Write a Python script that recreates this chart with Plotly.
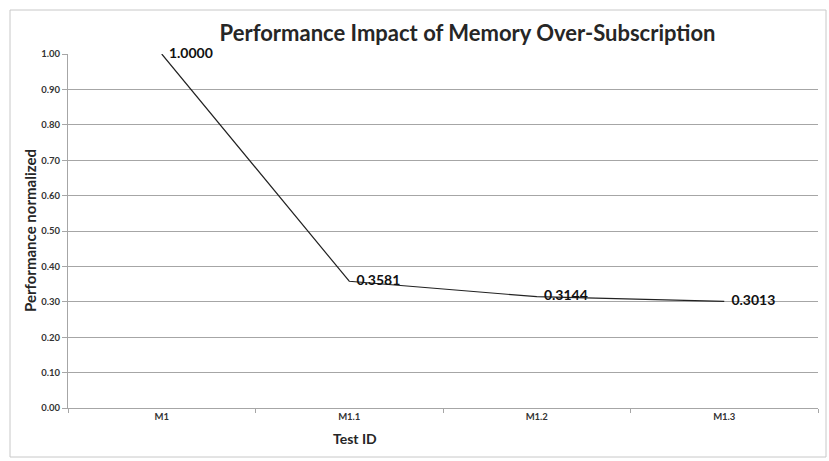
import plotly.graph_objects as go

# Test runs and normalized performance
test_ids = ["M1", "M1.1", "M1.2", "M1.3"]
performance = [1.0000, 0.3581, 0.3144, 0.3013]
y_ticks = [0.0, 0.1, 0.2, 0.3, 0.4, 0.5, 0.6, 0.7, 0.8, 0.9, 1.0]

FONT = "Lato, 'Open Sans', sans-serif"
GRID = "#a6a6a6"
TICK_FONT = dict(family=FONT, size=9.5, color="#333333")

fig = go.Figure()
fig.add_trace(go.Scatter(
    x=test_ids,
    y=performance,
    mode="lines+text",
    line=dict(color="#222222", width=1.2),
    text=[f"  <b>{v:.4f}</b>" for v in performance],
    textposition="middle right",
    textfont=dict(family=FONT, size=14, color="#111111"),
    cliponaxis=False,
    hoverinfo="skip",
))

fig.update_layout(
    width=829, height=461,
    margin=dict(l=68, r=11, t=54, b=53),
    paper_bgcolor="white",
    plot_bgcolor="white",
    showlegend=False,
    font=dict(family=FONT),
    title=dict(
        text="<b>Performance Impact of Memory Over-Subscription</b>",
        x=0.564, xanchor="center", y=0.928, yanchor="middle",
        font=dict(family=FONT, size=22, color="#262626"),
    ),
    xaxis=dict(
        type="category",
        range=[-0.5, 3.5],
        tickvals=test_ids,
        ticktext=[f"<b>{t}</b>" for t in test_ids],
        showgrid=False,
        showline=True, linecolor=GRID, linewidth=1,
        ticks="outside", tickson="boundaries", ticklen=4, tickcolor=GRID,
        tickfont=TICK_FONT,
        fixedrange=True,
    ),
    yaxis=dict(
        range=[0, 1],
        tickvals=y_ticks,
        ticktext=[f"<b>{v:.2f}</b>" for v in y_ticks],
        showgrid=True, gridcolor=GRID, gridwidth=1,
        showline=True, linecolor=GRID, linewidth=1,
        ticks="outside", ticklen=5, tickcolor=GRID,
        tickfont=TICK_FONT,
        zeroline=False,
        fixedrange=True,
    ),
    annotations=[
        dict(text="<b>Test ID</b>", xref="paper", yref="paper",
             x=(355 - 68) / 750, y=-30 / 354, xanchor="center", yanchor="middle",
             showarrow=False, font=dict(family=FONT, size=14, color="#262626")),
        dict(text="<b>Performance normalized</b>", xref="paper", yref="paper",
             x=-38 / 750, y=(408 - 231) / 354, xanchor="center", yanchor="middle",
             textangle=-90, showarrow=False,
             font=dict(family=FONT, size=15, color="#262626")),
    ],
    shapes=[
        dict(type="rect", xref="paper", yref="paper",
             x0=-58 / 750, x1=(826 - 68) / 750,
             y0=-49 / 354, y1=(408 - 10) / 354,
             line=dict(color="#c8c8c8", width=1)),
    ],
)

fig.write_html("out.html")
